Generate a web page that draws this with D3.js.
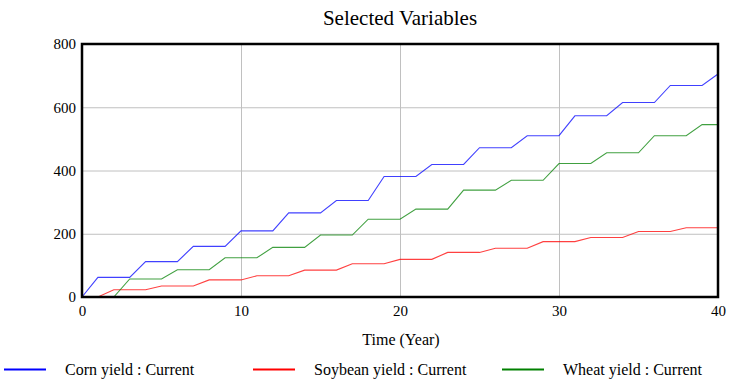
<!DOCTYPE html>
<html>
<head>
<meta charset="utf-8">
<script src="https://cdn.jsdelivr.net/npm/d3@7"></script>
<style>
    body { margin: 0; background: #ffffff; }
    svg { display: block; font-family: "Liberation Serif", "Tinos", "Times New Roman", Times, "DejaVu Serif", serif; }
    .grid line { stroke: #c0c0c0; stroke-width: 1; }
    .tick text { font-family: "Liberation Serif", "Tinos", "Times New Roman", Times, "DejaVu Serif", serif; font-size: 15px; fill: #000000; }
</style>
</head>
<body>
<svg id="chart" width="747" height="384"></svg>
<script>
const years = d3.range(0, 41);

// values, one per year
const cornYield = [
    0, 62, 62, 62, 112, 112, 112, 160, 160, 160,
    209, 209, 209, 266, 266, 266, 305, 305, 305, 381,
    381, 381, 419, 419, 419, 472, 472, 472, 510, 510,
    510, 573, 573, 573, 615, 615, 615, 669, 669, 669,
    705
];
const soybeanYield = [
    0, 0, 23, 23, 23, 35, 35, 35, 54, 54,
    54, 67, 67, 67, 85, 85, 85, 105, 105, 105,
    119, 119, 119, 141, 141, 141, 154, 154, 154, 175,
    175, 175, 188, 188, 188, 207, 207, 207, 219, 219,
    219
];
const wheatYield = [
    0, 0, 0, 57, 57, 57, 86, 86, 86, 124,
    124, 124, 157, 157, 157, 196, 196, 196, 246, 246,
    246, 278, 278, 278, 338, 338, 338, 369, 369, 369,
    422, 422, 422, 456, 456, 456, 510, 510, 510, 545,
    545
];

const seriesNames = ["Corn yield : Current", "Soybean yield : Current", "Wheat yield : Current"];
const seriesColors = ["#0000ff", "#ff0000", "#008000"];
const xTicks = [0, 10, 20, 30, 40];
const yTicks = [0, 200, 400, 600, 800];

const attr = {
    left: 82,
    right: 718,
    top: 44,
    bottom: 297
};

const translate = function(a, b) {
    return "translate(" + a + ", " + b + ")";
};

const svg = d3.select("#chart");

const x = d3.scaleLinear().domain([0, 40]).range([attr.left, attr.right]);
const y = d3.scaleLinear().domain([0, 800]).range([attr.bottom, attr.top]);

// grid lines
const grid = svg.append("g").attr("class", "grid");
grid.selectAll(".gx")
    .data(xTicks.slice(1, -1))
    .enter()
    .append("line")
    .attr("x1", d => x(d) + 0.5)
    .attr("x2", d => x(d) + 0.5)
    .attr("y1", attr.top)
    .attr("y2", attr.bottom);
grid.selectAll(".gy")
    .data(yTicks.slice(1, -1))
    .enter()
    .append("line")
    .attr("x1", attr.left)
    .attr("x2", attr.right)
    .attr("y1", d => y(d) + 0.5)
    .attr("y2", d => y(d) + 0.5);

// series lines
const data = [cornYield, soybeanYield, wheatYield];
const line = d3.line()
    .x((d, i) => x(years[i]))
    .y(d => y(d));

svg.append("g")
    .selectAll("path")
    .data(data)
    .enter()
    .append("path")
    .attr("d", line)
    .attr("fill", "none")
    .attr("stroke", (d, i) => seriesColors[i])
    .attr("stroke-opacity", 0.75)
    .attr("stroke-width", 1.1);

// frame
svg.append("rect")
    .attr("x", attr.left)
    .attr("y", attr.top)
    .attr("width", attr.right - attr.left)
    .attr("height", attr.bottom - attr.top)
    .attr("fill", "none")
    .attr("stroke", "#000000")
    .attr("stroke-width", 2.5);

// axes
const xAxis = svg.append("g")
    .attr("transform", translate(0, attr.bottom))
    .call(d3.axisBottom(x).tickValues(xTicks).tickSize(0).tickPadding(0).tickFormat(d3.format("d")));
xAxis.select(".domain").remove();
xAxis.selectAll("text").attr("y", 19).attr("dy", null);

const yAxis = svg.append("g")
    .attr("transform", translate(attr.left, 0))
    .call(d3.axisLeft(y).tickValues(yTicks).tickSize(0).tickPadding(6).tickFormat(d3.format("d")));
yAxis.select(".domain").remove();
svg.selectAll("g").attr("font-family", null);

// title and axis label
svg.append("text")
    .attr("x", (attr.left + attr.right) / 2)
    .attr("y", 25)
    .attr("text-anchor", "middle")
    .style("font-size", "21px")
    .text("Selected Variables");

svg.append("text")
    .attr("x", (attr.left + attr.right) / 2 + 1)
    .attr("y", 345)
    .attr("text-anchor", "middle")
    .style("font-size", "16px")
    .text("Time (Year)");

// legend
const legend = svg.append("g").attr("transform", translate(0, 369.5));
const legendX = [4, 253, 502];
legend.selectAll("line")
    .data(seriesNames)
    .enter()
    .append("line")
    .attr("x1", (d, i) => legendX[i])
    .attr("x2", (d, i) => legendX[i] + 42)
    .attr("y1", 0)
    .attr("y2", 0)
    .attr("stroke", (d, i) => seriesColors[i])
    .attr("stroke-width", 2);
legend.selectAll("text")
    .data(seriesNames)
    .enter()
    .append("text")
    .attr("x", (d, i) => legendX[i] + 61)
    .attr("y", 5.5)
    .style("font-size", "16px")
    .text(d => d);
</script>
</body>
</html>
